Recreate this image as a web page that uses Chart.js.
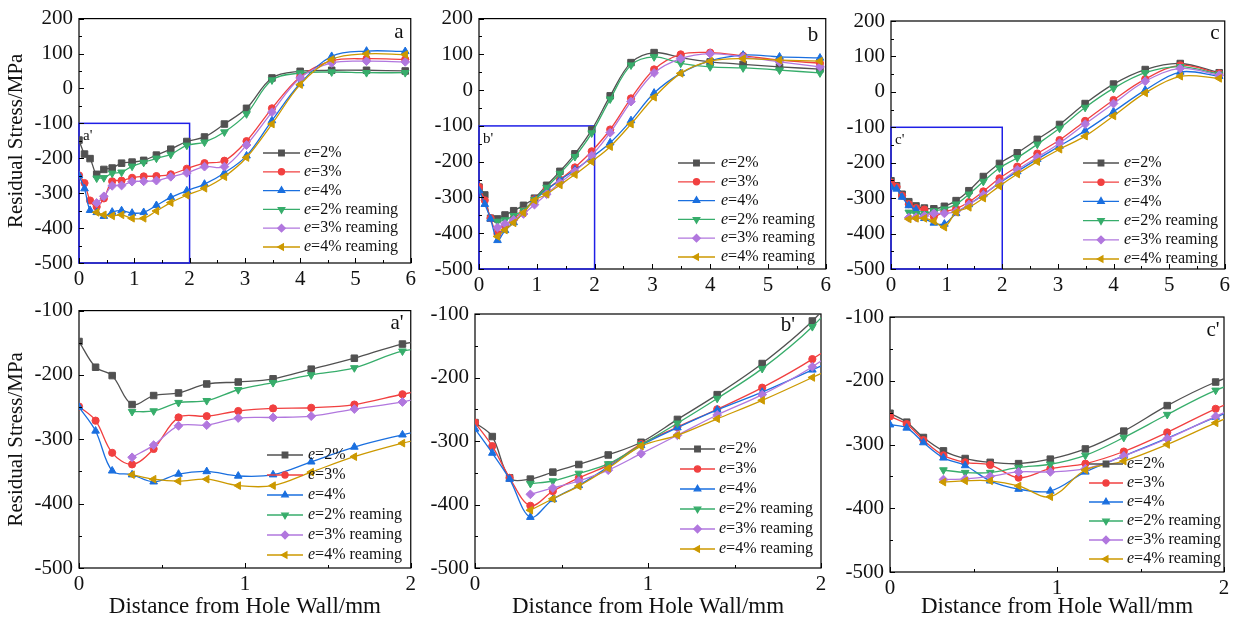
<!DOCTYPE html>
<html>
<head>
<meta charset="utf-8">
<script src="https://cdn.jsdelivr.net/npm/chart.js@4.4.1/dist/chart.umd.min.js"></script>
<style>
html, body { margin: 0; padding: 0; background: #fff; }
#fig { position: relative; width: 1234px; height: 623px; overflow: hidden; background: #fff; }
#fig canvas { position: absolute; }
</style>
</head>
<body>
<div id="fig">
  <canvas id="pa"></canvas>
  <canvas id="pb"></canvas>
  <canvas id="pc"></canvas>
  <canvas id="pa2"></canvas>
  <canvas id="pb2"></canvas>
  <canvas id="pc2"></canvas>
</div>
<script>
// distance from hole wall (mm), shared by all series
var distance = [0, 0.1, 0.2, 0.32, 0.45, 0.6, 0.77, 0.96, 1.17, 1.4, 1.66, 1.95, 2.27, 2.63, 3.03, 3.49, 4.0, 4.57, 5.2, 5.9];

var legendTail = ['=2%', '=3%', '=4%', '=2% reaming', '=3% reaming', '=4% reaming'];

// panel a (and a')
var aE2  = [-148, -188, -201, -246, -232, -228, -214, -211, -206, -191, -174, -152, -139, -102, -57, 30, 49, 52, 52, 50];
var aE3  = [-249, -271, -321, -339, -315, -266, -264, -256, -252, -251, -246, -230, -214, -207, -151, -57, 33, 79, 85, 83];
var aE4  = [-250, -287, -349, -355, -366, -354, -350, -357, -355, -335, -312, -293, -274, -242, -193, -92, 14, 92, 107, 106];
var aE2R = [null, null, null, -257, -256, -243, -240, -223, -212, -200, -189, -163, -154, -125, -73, 24, 44, 47, 45, 45];
var aE3R = [null, null, null, -328, -309, -279, -278, -267, -266, -264, -253, -242, -224, -224, -162, -68, 30, 73, 78, 76];
var aE4R = [null, null, null, -355, -362, -365, -362, -372, -372, -351, -327, -306, -286, -253, -198, -102, 11, 83, 99, 97];

// panel b (and b')
var bE2  = [-271, -293, -358, -360, -349, -337, -322, -302, -266, -227, -178, -111, -16, 77, 105, 91, 79, 72, 65, 59];
var bE3  = [-271, -308, -358, -402, -379, -358, -338, -305, -278, -250, -216, -171, -110, -23, 58, 100, 105, 96, 84, 75];
var bE4  = [-281, -319, -360, -420, -392, -370, -341, -307, -279, -251, -223, -188, -147, -85, -8, 47, 82, 98, 93, 90];
var bE2R = [null, null, null, -367, -363, -351, -336, -306, -272, -233, -186, -120, -25, 70, 93, 75, 65, 62, 56, 48];
var bE3R = [null, null, null, -384, -374, -363, -346, -320, -291, -259, -227, -183, -119, -32, 48, 88, 102, 93, 79, 65];
var bE4R = [null, null, null, -409, -391, -371, -343, -308, -291, -265, -236, -200, -158, -95, -20, 47, 81, 88, 84, 81];

// panel c (and c')
var cE2  = [-251, -265, -289, -310, -322, -328, -330, -323, -307, -279, -239, -202, -172, -134, -92, -33, 22, 63, 80, 54];
var cE3  = [-256, -268, -293, -317, -328, -332, -352, -338, -330, -311, -281, -244, -211, -174, -136, -82, -23, 36, 75, 52];
var cE4  = [-269, -274, -297, -321, -333, -357, -370, -373, -343, -318, -290, -257, -225, -190, -153, -110, -56, 5, 56, 44];
var cE2R = [null, null, null, -340, -344, -344, -336, -331, -317, -289, -253, -215, -186, -148, -103, -44, 10, 54, 71, 50];
var cE3R = [null, null, null, -355, -354, -350, -343, -343, -338, -318, -291, -256, -220, -185, -145, -91, -33, 30, 66, 47];
var cE4R = [null, null, null, -359, -357, -357, -365, -382, -340, -326, -300, -266, -232, -197, -162, -125, -68, -3, 44, 38];

var SERIF = '"Liberation Serif", "Times New Roman", serif';

var styles = [
  { color: '#515151', pointStyle: 'rect', radius: 4.6, rotation: 0 },
  { color: '#F14040', pointStyle: 'circle', radius: 3.6, rotation: 0 },
  { color: '#1A6FDF', pointStyle: 'triangle', radius: 4.4, rotation: 0 },
  { color: '#37AD6B', pointStyle: 'triangle', radius: 4.4, rotation: 180 },
  { color: '#B177DE', pointStyle: 'rectRot', radius: 4.4, rotation: 0 },
  { color: '#CC9900', pointStyle: 'triangle', radius: 4.4, rotation: 270 }
];

function toPoints(values) {
  var pts = [];
  values.forEach(function (v, i) {
    if (v !== null) pts.push({ x: distance[i], y: v });
  });
  return pts;
}

var decoPlugin = {
  id: 'deco',
  beforeDatasetsDraw: function (chart) {
    var p = chart.options.plugins.deco;
    var ctx = chart.ctx, a = chart.chartArea;
    ctx.save();
    ctx.strokeStyle = '#000';
    ctx.lineWidth = 1.2;
    ctx.strokeRect(a.left, a.top, a.right - a.left, a.bottom - a.top);
    if (p.inset) {
      var xs = chart.scales.x, ys = chart.scales.y;
      var l = xs.getPixelForValue(0), r = xs.getPixelForValue(2);
      var t = ys.getPixelForValue(-100), b = ys.getPixelForValue(-500);
      ctx.strokeStyle = '#1f1fe6';
      ctx.lineWidth = 1.5;
      ctx.strokeRect(l, t, r - l, b - t);
      ctx.fillStyle = '#111';
      ctx.font = '15px ' + SERIF;
      ctx.textAlign = 'left';
      ctx.textBaseline = 'middle';
      ctx.fillText(p.inset, l + 4, t + 13);
    }
    ctx.restore();
  },
  afterDraw: function (chart) {
    var p = chart.options.plugins.deco;
    var ctx = chart.ctx, a = chart.chartArea;
    var xs = chart.scales.x, ys = chart.scales.y;
    ctx.save();
    ctx.strokeStyle = '#000';
    ctx.lineWidth = 1;
    ctx.beginPath();
    for (var v = ys.min; v <= ys.max + 0.01; v += 50) {
      var py = Math.round(ys.getPixelForValue(v)) + 0.5;
      var len = (Math.round(v) % 100 === 0) ? 5 : 3;
      ctx.moveTo(a.left, py);
      ctx.lineTo(a.left + len, py);
    }
    for (var u = xs.min; u <= xs.max + 0.001; u += 0.5) {
      var px = Math.round(xs.getPixelForValue(u)) + 0.5;
      var len2 = (Math.abs(u - Math.round(u)) < 0.01) ? 5 : 3;
      ctx.moveTo(px, a.bottom);
      ctx.lineTo(px, a.bottom - len2);
    }
    ctx.stroke();

    // legend with italic e
    var lg = p.legend;
    chart.data.datasets.forEach(function (ds, i) {
      var y = lg.y + i * lg.dy;
      ctx.strokeStyle = ds.borderColor;
      ctx.fillStyle = ds.backgroundColor;
      ctx.lineWidth = 1.3;
      ctx.beginPath();
      ctx.moveTo(lg.x0, y);
      ctx.lineTo(lg.x1, y);
      ctx.stroke();
      Chart.helpers.drawPoint(ctx, {
        pointStyle: ds.pointStyle,
        radius: ds.pointRadius * 0.85,
        rotation: ds.pointRotation,
        borderWidth: 1
      }, (lg.x0 + lg.x1) / 2, y);
      ctx.fillStyle = '#111';
      ctx.textAlign = 'left';
      ctx.textBaseline = 'middle';
      ctx.font = 'italic 16px ' + SERIF;
      ctx.fillText('e', lg.tx, y);
      var w = ctx.measureText('e').width;
      ctx.font = '16px ' + SERIF;
      ctx.fillText(legendTail[i], lg.tx + w, y);
    });

    ctx.fillStyle = '#111';
    ctx.font = '21px ' + SERIF;
    ctx.textAlign = 'center';
    ctx.textBaseline = 'middle';
    ctx.fillText(p.label.text, p.label.x, p.label.y);
    ctx.restore();
  }
};

function makePanel(id, cfg) {
  var cv = document.getElementById(id);
  cv.width = cfg.canvas.w;
  cv.height = cfg.canvas.h;
  cv.style.left = cfg.canvas.x + 'px';
  cv.style.top = cfg.canvas.y + 'px';
  cv.style.width = cfg.canvas.w + 'px';
  cv.style.height = cfg.canvas.h + 'px';

  var ox = cfg.canvas.x, oy = cfg.canvas.y;
  var datasets = cfg.series.map(function (vals, i) {
    var s = styles[i];
    return {
      label: 'e' + legendTail[i],
      data: toPoints(vals),
      borderColor: s.color,
      backgroundColor: s.color,
      borderWidth: 1.3,
      pointStyle: s.pointStyle,
      pointRadius: s.radius,
      pointRotation: s.rotation,
      pointBorderWidth: 1,
      tension: 0.35,
      order: 6 - i
    };
  });

  new Chart(cv, {
    type: 'line',
    data: { datasets: datasets },
    plugins: [decoPlugin],
    options: {
      responsive: false,
      animation: false,
      devicePixelRatio: 1,
      layout: {
        padding: {
          left: 0,
          bottom: 0,
          top: cfg.plot.t - oy,
          right: ox + cfg.canvas.w - cfg.plot.r
        }
      },
      plugins: {
        legend: { display: false },
        tooltip: { enabled: false },
        deco: {
          inset: cfg.inset,
          legend: {
            x0: cfg.legend.x0 - ox, x1: cfg.legend.x1 - ox, tx: cfg.legend.tx - ox,
            y: cfg.legend.y - oy, dy: cfg.legend.dy
          },
          label: { text: cfg.label.text, x: cfg.label.x - ox, y: cfg.label.y - oy }
        }
      },
      scales: {
        x: {
          type: 'linear',
          min: 0,
          max: cfg.xMax,
          grid: { display: false, drawTicks: false },
          border: { display: false },
          ticks: { stepSize: 1, padding: 4, autoSkip: false, maxRotation: 0, color: '#111', font: { family: SERIF, size: 21 } },
          title: {
            display: cfg.xTitle,
            text: 'Distance from Hole Wall/mm',
            color: '#111',
            font: { family: SERIF, size: 23 },
            padding: { top: 0, bottom: 2 }
          },
          afterFit: function (s) { s.height = oy + cfg.canvas.h - cfg.plot.b; }
        },
        y: {
          type: 'linear',
          min: cfg.yMin,
          max: cfg.yMax,
          grid: { display: false, drawTicks: false },
          border: { display: false },
          ticks: { stepSize: 100, padding: 6, autoSkip: false, color: '#111', font: { family: SERIF, size: 21 } },
          title: {
            display: cfg.yTitle,
            text: 'Residual Stress/MPa',
            color: '#111',
            font: { family: SERIF, size: 21 },
            padding: { top: 4, bottom: 0 }
          },
          afterFit: function (s) { s.width = cfg.plot.l - ox; }
        }
      }
    }
  });
}

var topA = [aE2, aE3, aE4, aE2R, aE3R, aE4R];
var topB = [bE2, bE3, bE4, bE2R, bE3R, bE4R];
var topC = [cE2, cE3, cE4, cE2R, cE3R, cE4R];

makePanel('pa', {
  canvas: { x: 0, y: 0, w: 420, h: 292 }, plot: { l: 79, t: 16, r: 411, b: 263 },
  xMax: 6, yMin: -500, yMax: 200, series: topA, xTitle: false, yTitle: true, inset: "a'",
  legend: { x0: 263, x1: 300, tx: 304, y: 153, dy: 18.8 }, label: { text: 'a', x: 399, y: 32 }
});
makePanel('pb', {
  canvas: { x: 420, y: 0, w: 415, h: 292 }, plot: { l: 479, t: 18, r: 827, b: 269 },
  xMax: 6, yMin: -500, yMax: 200, series: topB, xTitle: false, yTitle: false, inset: "b'",
  legend: { x0: 678, x1: 715, tx: 721, y: 163, dy: 18.8 }, label: { text: 'b', x: 813, y: 35 }
});
makePanel('pc', {
  canvas: { x: 835, y: 0, w: 399, h: 292 }, plot: { l: 891, t: 21, r: 1226, b: 269 },
  xMax: 6, yMin: -500, yMax: 200, series: topC, xTitle: false, yTitle: false, inset: "c'",
  legend: { x0: 1083, x1: 1119, tx: 1124, y: 163, dy: 19.2 }, label: { text: 'c', x: 1215, y: 33 }
});
makePanel('pa2', {
  canvas: { x: 0, y: 292, w: 420, h: 331 }, plot: { l: 79, t: 306, r: 412, b: 568 },
  xMax: 2, yMin: -500, yMax: -100, series: topA, xTitle: true, yTitle: true, inset: null,
  legend: { x0: 267, x1: 303, tx: 308, y: 455, dy: 20 }, label: { text: "a'", x: 397, y: 323 }
});
makePanel('pb2', {
  canvas: { x: 420, y: 292, w: 415, h: 331 }, plot: { l: 475, t: 314, r: 821, b: 568 },
  xMax: 2, yMin: -500, yMax: -100, series: topB, xTitle: true, yTitle: false, inset: null,
  legend: { x0: 680, x1: 715, tx: 719, y: 449, dy: 20 }, label: { text: "b'", x: 788, y: 325 }
});
makePanel('pc2', {
  canvas: { x: 835, y: 292, w: 399, h: 331 }, plot: { l: 890, t: 317, r: 1224, b: 572 },
  xMax: 2, yMin: -500, yMax: -100, series: topC, xTitle: true, yTitle: false, inset: null,
  legend: { x0: 1089, x1: 1123, tx: 1127, y: 464, dy: 19 }, label: { text: "c'", x: 1213, y: 330 }
});
</script>
</body>
</html>
